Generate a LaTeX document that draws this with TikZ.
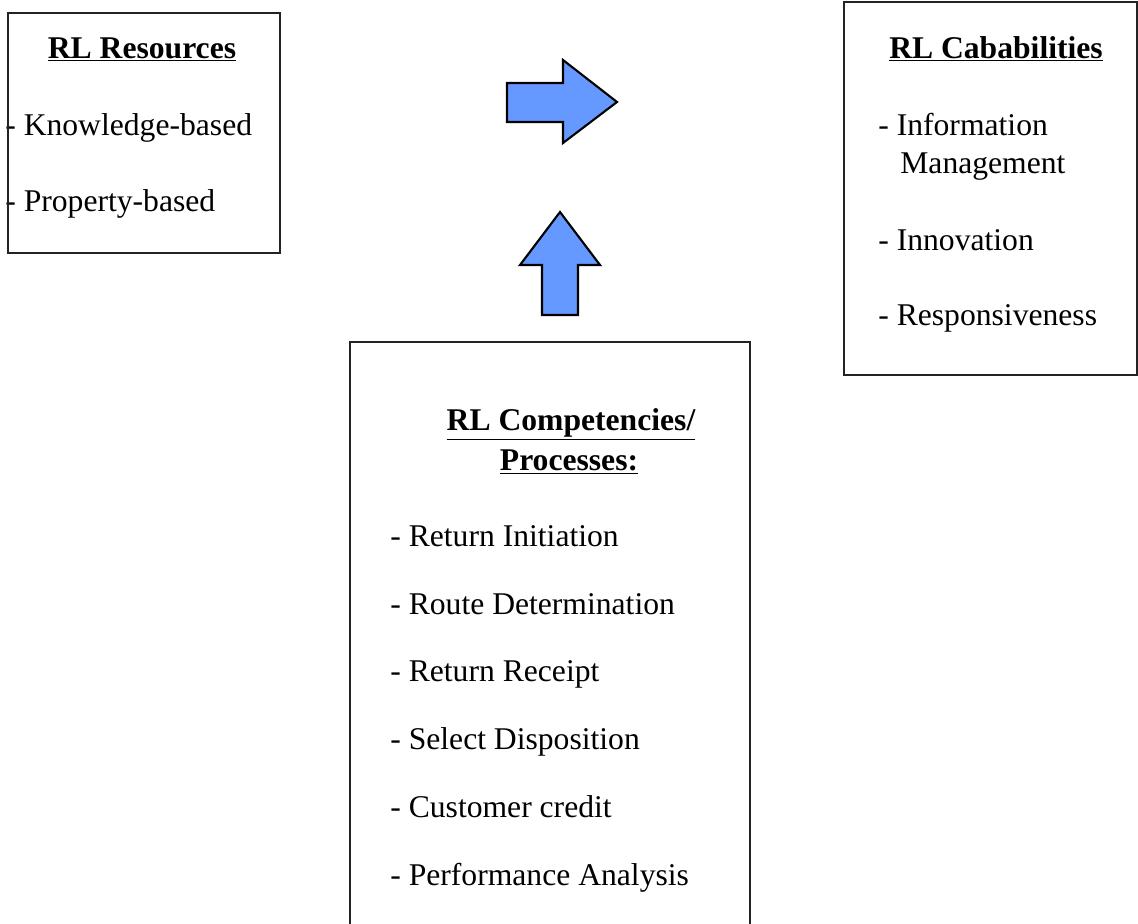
\documentclass[tikz,border=0pt]{standalone}
\usepackage{fontspec}
\setmainfont{Liberation Serif}
\definecolor{arrowblue}{RGB}{102, 153, 255}
\definecolor{boxline}{RGB}{35, 35, 35}
\usetikzlibrary{positioning}

\tikzset{
  panel/.style={draw=boxline, line width=1.5pt, rectangle, inner sep=0pt},
  heading/.style={font=\fontsize{18}{22}\selectfont\bfseries, inner sep=0pt, anchor=base},
  item/.style={font=\fontsize{18}{22}\selectfont, inner sep=0pt, anchor=base west},
  blockarrow/.style={draw=black, fill=arrowblue, line width=1.2pt, line join=miter}
}

\begin{document}
\begin{tikzpicture}[x=0.02cm, y=-0.02cm]
  \useasboundingbox (0,0) rectangle (1138,923);

  % Resources
  \node[heading] (restitle) at (142,58) {\underline{RL Resources}};
  \node[item] (know) at (5,135) {- Knowledge-based};
  \node[item] (prop) at (5,211) {- Property-based};
  \node[panel, minimum width=5.44cm, minimum height=4.8cm] (resources) at (144,133) {};

  % Capabilities
  \node[heading] (captitle) at (996,58) {\underline{RL Cababilities}};
  \node[item] (info) at (878,135) {- Information};
  \node[item] (mgmt) at (900,173) {Management};
  \node[item] (innov) at (878,250) {- Innovation};
  \node[item] (resp) at (878,325) {- Responsiveness};
  \node[panel, minimum width=5.86cm, minimum height=7.46cm] (capabilities) at (990.5,188.5) {};

  % Competencies / processes
  \node[heading] (comptitle) at (571,430) {\underline{RL Competencies/}};
  \node[heading] (proctitle) at (569,470) {\underline{Processes:}};
  \node[item] (initiation) at (390,546) {- Return Initiation};
  \node[item] (route) at (390,614) {- Route Determination};
  \node[item] (receipt) at (390,681) {- Return Receipt};
  \node[item] (disposition) at (390,749) {- Select Disposition};
  \node[item] (credit) at (390,817) {- Customer credit};
  \node[item] (analysis) at (390,885) {- Performance Analysis};
  \node[panel, minimum width=8cm, minimum height=11.96cm] (competencies) at (550,641) {};

  % Block arrows
  \draw[blockarrow] (507,83) -- (563,83) -- (563,60) -- (617,102) -- (563,143) -- (563,122) -- (507,122) -- cycle;
  \draw[blockarrow] (542,315) -- (542,265) -- (520,265) -- (560,212) -- (600,265) -- (578,265) -- (578,315) -- cycle;
\end{tikzpicture}
\end{document}
